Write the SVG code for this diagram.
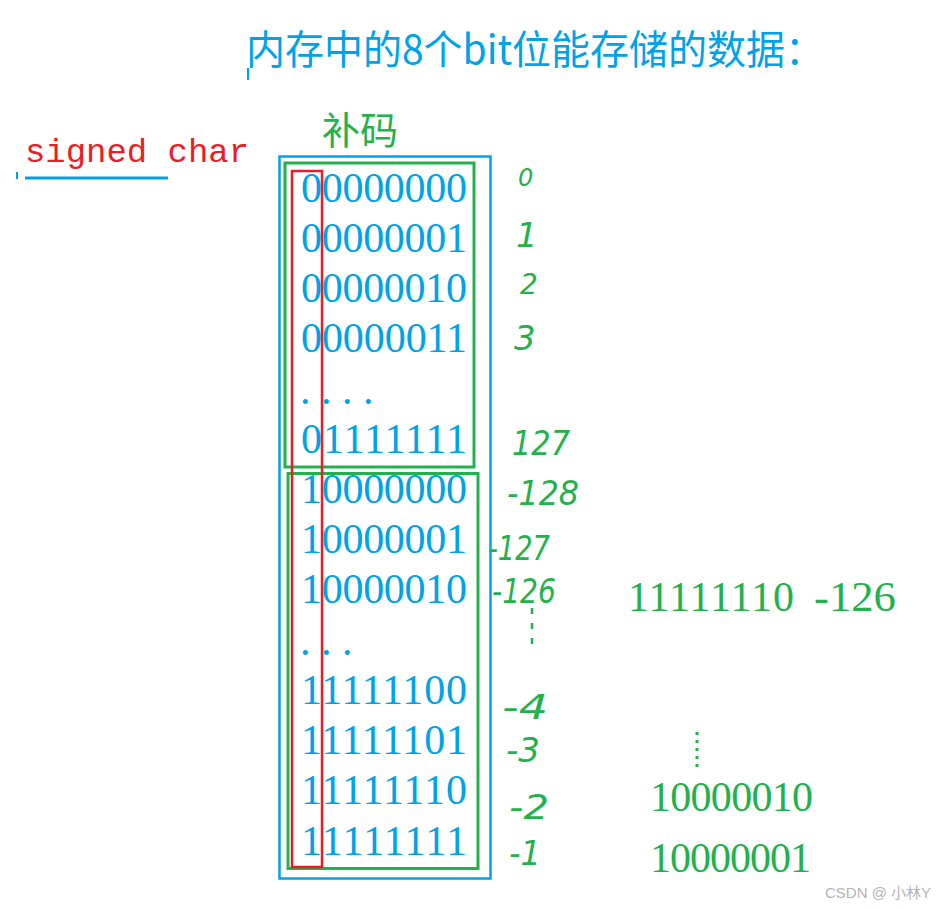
<svg xmlns="http://www.w3.org/2000/svg" width="944" height="909" viewBox="0 0 944 909">
<style>
.blue{fill:#00A2E8}
.green{fill:#22B14C}
.bits{font-family:"Liberation Serif",serif;font-size:42px;fill:#00A2E8}
.hand{font-family:"DejaVu Sans","Liberation Sans",sans-serif;font-size:34px;fill:#22B14C;font-style:italic}
.gbits{font-family:"Liberation Serif",serif;font-size:42px;fill:#22B14C}
.cjk{font-family:"Noto Sans CJK SC","Liberation Sans",sans-serif}
</style>
<rect width="944" height="909" fill="#ffffff"/>
<g id="title">
<text class="cjk blue" x="246" y="64" font-size="40" textLength="578" lengthAdjust="spacingAndGlyphs">内存中的8个bit位能存储的数据：</text>
<line x1="248" y1="68" x2="248" y2="80" stroke="#00A2E8" stroke-width="2"/>
</g>
<g id="signed-char">
<text x="25" y="162" font-family="Liberation Mono,monospace" font-size="34" fill="#ED1C24" textLength="224" lengthAdjust="spacingAndGlyphs">signed char</text>
<line x1="25" y1="178" x2="168" y2="178" stroke="#00A2E8" stroke-width="3"/>
<line x1="17" y1="172" x2="17" y2="179" stroke="#00A2E8" stroke-width="2"/>
</g>
<g id="label-buma">
<text class="cjk green" x="322" y="144" font-size="38">补码</text>
</g>
<g id="memory-column">
<rect x="279.5" y="156.5" width="211" height="722" fill="none" stroke="#00A2E8" stroke-width="2.5"/>
<rect x="285" y="163" width="189" height="304" fill="none" stroke="#22B14C" stroke-width="3"/>
<rect x="288" y="473.5" width="190" height="395" fill="none" stroke="#22B14C" stroke-width="3"/>
<g class="bits">
<text x="301" y="202" textLength="166">00000000</text>
<text x="301" y="252" textLength="166">00000001</text>
<text x="301" y="302" textLength="166">00000010</text>
<text x="301" y="352" textLength="166">00000011</text>
<text x="300" y="404" letter-spacing="10.5">....</text>
<text x="301" y="453" textLength="166">01111111</text>
<text x="301" y="503" textLength="166">10000000</text>
<text x="301" y="553" textLength="166">10000001</text>
<text x="301" y="603" textLength="166">10000010</text>
<text x="300" y="655" letter-spacing="10.5">...</text>
<text x="301" y="704" textLength="166">11111100</text>
<text x="301" y="754" textLength="166">11111101</text>
<text x="301" y="804" textLength="166">11111110</text>
<text x="301" y="855" textLength="166">11111111</text>
</g>
<rect x="292" y="171" width="30" height="696" fill="none" stroke="#ED1C24" stroke-width="2.5"/>
</g>
<g id="decimal-values" class="hand">
<text x="518" y="186" font-size="24">0</text>
<text x="516" y="247">1</text>
<text x="520" y="294" font-size="28">2</text>
<text x="514" y="350">3</text>
<text x="512" y="455" textLength="58" lengthAdjust="spacingAndGlyphs">127</text>
<text x="507" y="505" textLength="72" lengthAdjust="spacingAndGlyphs">-128</text>
<text x="488" y="560" textLength="62" lengthAdjust="spacingAndGlyphs">-127</text>
<text x="492" y="603" textLength="64" lengthAdjust="spacingAndGlyphs">-126</text>
<line x1="532" y1="608" x2="532" y2="652" stroke="#22B14C" stroke-width="2.5" stroke-dasharray="6 9"/>
<text x="502" y="719" textLength="46" lengthAdjust="spacingAndGlyphs">-4</text>
<text x="506" y="762" textLength="34" lengthAdjust="spacingAndGlyphs">-3</text>
<text x="509" y="819" textLength="40" lengthAdjust="spacingAndGlyphs">-2</text>
<text x="509" y="865" textLength="32" lengthAdjust="spacingAndGlyphs">-1</text>
</g>
<g id="side-notes">
<text class="gbits" x="628" y="611" textLength="166">11111110</text>
<text class="gbits" x="814" y="611" textLength="82" lengthAdjust="spacingAndGlyphs">-126</text>
<line x1="697" y1="732" x2="697" y2="771" stroke="#22B14C" stroke-width="3" stroke-dasharray="3 5"/>
<text class="gbits" x="650" y="811" textLength="163">10000010</text>
<text class="gbits" x="650" y="872" textLength="161">10000001</text>
</g>
<g id="watermark">
<text x="825" y="898" font-family="Liberation Sans,Noto Sans CJK SC,sans-serif" font-size="15" fill="#b4b4b4">CSDN @ 小林Y</text>
</g>
</svg>
